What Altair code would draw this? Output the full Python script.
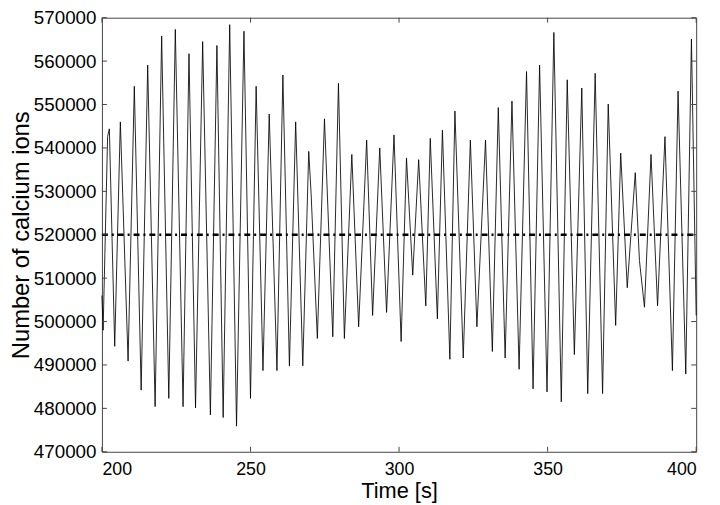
import altair as alt
import pandas as pd

# ---- data (peaks, troughs and shoulders) ----
time_s = [
    200.0, 200.4, 201.9, 202.5, 204.3, 206.2, 208.8, 210.9, 213.2, 215.4,
    217.9, 220.1, 222.5, 224.7, 227.3, 229.3, 231.5, 233.9, 236.5, 238.7,
    240.8, 243.0, 245.3, 247.8, 250.0, 251.9, 254.2, 256.3, 258.9, 260.9,
    263.1, 265.2, 267.6, 269.6, 270.4, 272.5, 274.9, 277.7, 279.6, 281.6,
    284.1, 286.4, 289.1, 291.1, 293.5, 295.8, 298.3, 300.7, 302.5, 304.6,
    306.6, 309.0, 310.5, 312.9, 314.6, 317.1, 318.8, 321.6, 324.0, 326.2,
    329.1, 331.4, 333.4, 335.7, 338.0, 340.4, 342.9, 345.1, 347.3, 349.8,
    352.1, 354.6, 356.6, 359.0, 361.5, 363.5, 366.0, 368.5, 370.4, 372.9,
    374.6, 376.8, 379.5, 380.9, 382.6, 384.8, 387.0, 389.5, 392.0, 393.9,
    396.5, 398.4, 400.0,
]
calcium_ions = [
    506000, 498000, 542600, 544400, 494300, 546000, 490900, 554200, 484200, 559100,
    480400, 565800, 482300, 567300, 480400, 561700, 480100, 564500, 478500, 563600,
    477900, 568400, 475900, 566900, 482300, 554200, 488700, 547800, 488700, 556800,
    489800, 546000, 489800, 539200, 529500, 496100, 546700, 496500, 554900, 496100,
    538500, 498800, 541800, 501400, 540000, 502100, 543000, 495400, 537700, 510700,
    537300, 503600, 542200, 500600, 544100, 491300, 548500, 491600, 541800, 498800,
    541800, 493100, 549300, 491600, 550800, 489000, 557600, 484500, 559100, 483800,
    566600, 481500, 555700, 492400, 553800, 483400, 557200, 483400, 550100, 499100,
    538800, 507800, 534300, 514100, 503300, 538500, 503600, 542600, 488700, 553100,
    487900, 565100, 501400,
]
mean_level = 520000
mean_span = [200, 400]
x_ticks = [200, 250, 300, 350, 400]
y_ticks = [470000, 480000, 490000, 500000, 510000, 520000,
           530000, 540000, 550000, 560000, 570000]

df = pd.DataFrame({"t": time_s, "n": calcium_ions})
mean_df = pd.DataFrame({"t": mean_span, "n": [mean_level, mean_level]})
xt_df = pd.DataFrame({"t": x_ticks})
yt_df = pd.DataFrame({"n": y_ticks})

W, H = 601, 439
FONT = "Liberation Sans"
xscale = alt.Scale(domain=[200, 400], nice=False, zero=False)
yscale = alt.Scale(domain=[470000, 570000], nice=False, zero=False)

line = alt.Chart(df).mark_line(color="black", strokeWidth=0.85).encode(
    x=alt.X("t:Q", scale=xscale,
            axis=alt.Axis(values=x_ticks, format="d", title="Time [s]",
                          ticks=False, domain=False, grid=False,
                          labelFontSize=18, titleFontSize=22,
                          labelPadding=9, titlePadding=2)),
    y=alt.Y("n:Q", scale=yscale,
            axis=alt.Axis(values=y_ticks, format="d", title="Number of calcium ions",
                          ticks=False, domain=False, grid=False,
                          labelFontSize=19, titleFontSize=24,
                          labelPadding=6, titlePadding=0)),
)

mean_line = alt.Chart(mean_df).mark_line(
    color="black", strokeWidth=2.6, strokeDash=[6, 4, 2, 4]
).encode(x=alt.X("t:Q", scale=xscale), y=alt.Y("n:Q", scale=yscale))

tick_col = "#444444"
left_ticks = alt.Chart(yt_df).mark_rule(color=tick_col, strokeWidth=1).encode(
    y=alt.Y("n:Q", scale=yscale), x=alt.value(0), x2=alt.value(5))
right_ticks = alt.Chart(yt_df).mark_rule(color=tick_col, strokeWidth=1).encode(
    y=alt.Y("n:Q", scale=yscale), x=alt.value(W - 5), x2=alt.value(W))
bottom_ticks = alt.Chart(xt_df).mark_rule(color=tick_col, strokeWidth=1).encode(
    x=alt.X("t:Q", scale=xscale), y=alt.value(H - 5), y2=alt.value(H))
top_ticks = alt.Chart(xt_df).mark_rule(color=tick_col, strokeWidth=1).encode(
    x=alt.X("t:Q", scale=xscale), y=alt.value(0), y2=alt.value(5))

chart = alt.layer(
    line, mean_line, left_ticks, right_ticks, bottom_ticks, top_ticks
).properties(
    width=W, height=H,
    autosize=alt.AutoSizeParams(type="none"),
    padding={"left": 95, "top": 7, "right": 16, "bottom": 51},
).configure_view(
    stroke="#444444", strokeWidth=1
).configure_axis(
    labelFont=FONT, titleFont=FONT, labelColor="black", titleColor="black",
    titleFontWeight="normal",
)

chart.save("out.html", embed_options={"renderer": "svg", "actions": False})
